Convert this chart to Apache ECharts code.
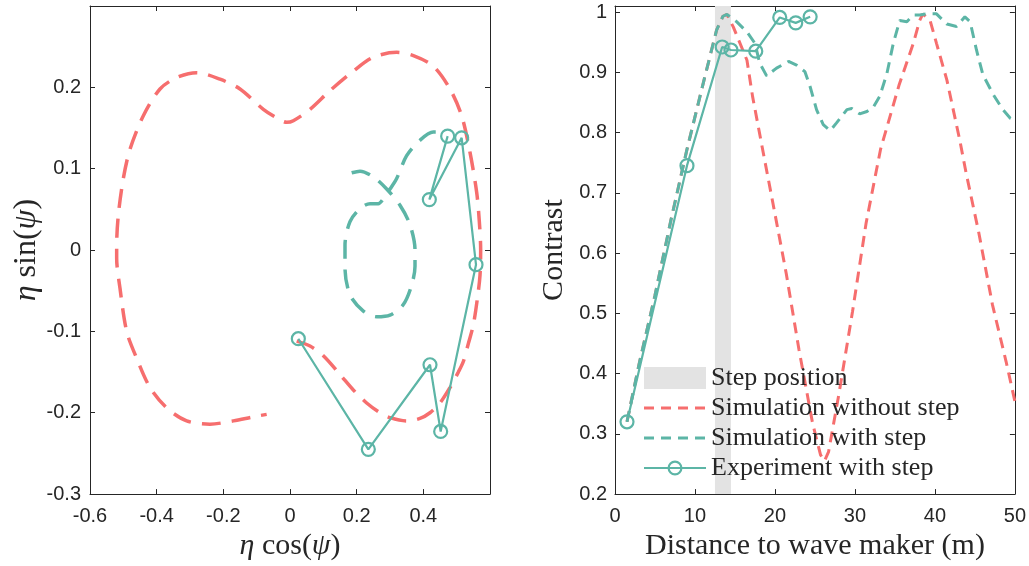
<!DOCTYPE html>
<html><head><meta charset="utf-8">
<script src="https://cdn.jsdelivr.net/npm/echarts@6/dist/echarts.min.js"></script>
<style>html,body{margin:0;padding:0;background:#fff}#c{width:1029px;height:566px}</style>
</head><body><div id="c"></div>
<script>
// ---------- Left panel: phase plane ----------
const phaseNoStepX = [0.02,0.06,0.10,0.15,0.19,0.23,0.27,0.30,0.35,0.39,0.42,0.45,0.48,0.505,0.52,0.535,0.55,0.562,0.57,0.572,0.568,0.56,0.54,0.515,0.48,0.43,0.37,0.32,0.25,0.19,0.12,0.06,0.01,-0.01,-0.03,-0.08,-0.15,-0.21,-0.28,-0.34,-0.39,-0.44,-0.48,-0.50,-0.515,-0.52,-0.52,-0.51,-0.49,-0.46,-0.42,-0.37,-0.31,-0.24,-0.17,-0.11,-0.07];
const phaseNoStepY = [-0.112,-0.118,-0.13,-0.153,-0.172,-0.188,-0.2,-0.206,-0.21,-0.207,-0.2,-0.188,-0.169,-0.15,-0.137,-0.115,-0.092,-0.06,-0.031,0.0,0.035,0.071,0.12,0.165,0.198,0.226,0.239,0.243,0.237,0.22,0.196,0.173,0.159,0.157,0.16,0.173,0.198,0.21,0.218,0.212,0.198,0.165,0.124,0.088,0.043,0.006,-0.01,-0.047,-0.1,-0.133,-0.169,-0.194,-0.21,-0.214,-0.21,-0.205,-0.202];
const phaseStepX = [0.185,0.21,0.25,0.29,0.33,0.36,0.375,0.375,0.365,0.34,0.30,0.26,0.22,0.18,0.165,0.165,0.18,0.21,0.24,0.265,0.28,0.30,0.32,0.35,0.39,0.43,0.47];
const phaseStepY = [0.095,0.097,0.09,0.075,0.055,0.031,0.0,-0.02,-0.043,-0.067,-0.08,-0.082,-0.075,-0.055,-0.022,0.006,0.035,0.051,0.057,0.057,0.063,0.075,0.088,0.116,0.135,0.145,0.145];
const phaseExpX = [0.025,0.235,0.42,0.452,0.558,0.515,0.418,0.473];
const phaseExpY = [-0.109,-0.245,-0.141,-0.223,-0.018,0.138,0.062,0.14];

// ---------- Right panel: contrast vs distance ----------
const stepPosition = [12.5, 14.5];
const noStepDist = [1.5,3,5,7,9,11,12.7,13.5,14,14.8,16.5,17.2,18.3,19.7,21.4,23,24.7,25.7,26.2,26.7,28,29.7,31.4,33.2,35.5,37.3,38.1,38.5,39.4,40.2,41.5,43.1,43.9,45.5,47.2,48.9,50];
const noStepContrast = [0.32,0.415,0.53,0.655,0.772,0.88,0.97,0.993,0.996,0.975,0.92,0.86,0.783,0.686,0.567,0.44,0.318,0.265,0.255,0.27,0.366,0.503,0.65,0.772,0.878,0.948,0.986,0.997,0.986,0.948,0.887,0.788,0.733,0.633,0.514,0.42,0.354];
const stepDist = [1.5,3,5,7,9,11,12.7,13.5,14,15.2,16.5,17.5,18.1,18.96,20.2,21.7,22.7,23.75,24.4,25.2,26.04,26.9,27.7,29.0,29.6,30.6,31.5,32.3,33.1,34,34.8,35.6,36.5,37.3,38.1,39,40.2,41.5,42.7,43.75,44.4,45.2,46,47.3,48.5,49.4,50];
const stepContrast = [0.32,0.415,0.53,0.655,0.772,0.88,0.97,0.993,0.996,0.984,0.967,0.948,0.915,0.894,0.907,0.918,0.912,0.901,0.876,0.838,0.813,0.803,0.816,0.838,0.84,0.831,0.835,0.842,0.86,0.898,0.948,0.986,0.984,0.995,0.995,0.997,0.997,0.98,0.976,0.992,0.984,0.937,0.896,0.863,0.838,0.824,0.82];
const expDist = [1.5,9,13.4,14.5,17.6,20.6,22.6,24.4];
const expContrast = [0.32,0.745,0.942,0.937,0.935,0.991,0.982,0.992];

const legendNames = ['Step position','Simulation without step','Simulation with step','Experiment with step'];

const RED = '#F66E6E', GREEN = '#5CB5A6', GREY = '#E3E3E3', INK = '#262626';
const zip = (a, b) => a.map((v, i) => [v, b[i]]);
const fmt1 = v => Math.abs(v) < 1e-9 ? '0' : (Math.round(v * 10) / 10).toFixed(1);

const tickFont = { fontFamily: 'Liberation Sans', fontSize: 20, color: INK };
const serif = 'Liberation Serif';
const marker = { color: 'transparent', borderColor: GREEN, borderWidth: 2.2 };

function axisBase(extra) {
  return Object.assign({
    type: 'value',
    axisLine: { show: true, onZero: false, lineStyle: { color: INK, width: 1 } },
    axisTick: { show: true, inside: true, length: 5, lineStyle: { color: INK, width: 1 } },
    splitLine: { show: false },
  }, extra);
}

const option = {
  animation: false,
  backgroundColor: '#fff',
  grid: [
    { left: 90, right: 539, top: 6, bottom: 69 },
    { left: 615, right: 14, top: 6, bottom: 69 }
  ],
  xAxis: [
    axisBase({ gridIndex: 0, position: 'bottom', min: -0.6, max: 0.6, interval: 0.2,
      axisLabel: Object.assign({ margin: 12, formatter: v => v > 0.5 ? '' : fmt1(v) }, tickFont),
      name: '{i|η} cos({i|ψ})', nameLocation: 'middle', nameGap: 34,
      nameTextStyle: { fontFamily: serif, fontSize: 30, color: INK,
        rich: { i: { fontFamily: serif, fontStyle: 'italic', fontSize: 30, color: INK } } } }),
    axisBase({ gridIndex: 0, position: 'top', min: -0.6, max: 0.6, interval: 0.2, axisLabel: { show: false } }),
    axisBase({ gridIndex: 1, position: 'bottom', min: 0, max: 50, interval: 10,
      axisLabel: Object.assign({ margin: 12 }, tickFont),
      name: 'Distance to wave maker (m)', nameLocation: 'middle', nameGap: 34,
      nameTextStyle: { fontFamily: serif, fontSize: 30, color: INK } }),
    axisBase({ gridIndex: 1, position: 'top', min: 0, max: 50, interval: 10, axisLabel: { show: false } })
  ],
  yAxis: [
    axisBase({ gridIndex: 0, position: 'left', min: -0.3, max: 0.3, interval: 0.1,
      axisLabel: Object.assign({ margin: 9, formatter: v => v > 0.25 ? '' : fmt1(v) }, tickFont),
      name: '{i|η} sin({i|ψ})', nameLocation: 'middle', nameGap: 44, nameRotate: 90,
      nameTextStyle: { fontFamily: serif, fontSize: 32, color: INK,
        rich: { i: { fontFamily: serif, fontStyle: 'italic', fontSize: 32, color: INK } } } }),
    axisBase({ gridIndex: 0, position: 'right', min: -0.3, max: 0.3, interval: 0.1, axisLabel: { show: false } }),
    axisBase({ gridIndex: 1, position: 'left', min: 0.2, max: 1.01, interval: 0.1,
      axisLabel: Object.assign({ margin: 8, formatter: v => v > 1.005 ? '' : (Math.abs(v - 1) < 1e-6 ? '1' : fmt1(v)) }, tickFont),
      name: 'Contrast', nameLocation: 'middle', nameGap: 46, nameRotate: 90,
      nameTextStyle: { fontFamily: serif, fontSize: 30, color: INK } }),
    axisBase({ gridIndex: 1, position: 'right', min: 0.2, max: 1.01, interval: 0.1, axisLabel: { show: false } })
  ],
  legend: {
    left: 628, top: 360, orient: 'vertical',
    itemWidth: 62, itemHeight: 16, itemGap: 4,
    textStyle: { fontFamily: serif, fontSize: 26, color: INK },
    data: [
      { name: legendNames[0], itemStyle: { opacity: 0 }, lineStyle: { width: 22, color: GREY, type: 'solid' } },
      { name: legendNames[1], itemStyle: { opacity: 0 }, lineStyle: { width: 3, color: RED, type: [10, 7] } },
      { name: legendNames[2], itemStyle: { opacity: 0 }, lineStyle: { width: 3, color: GREEN, type: [10, 7] } },
      { name: legendNames[3], itemStyle: marker, lineStyle: { width: 2.2, color: GREEN } }
    ]
  },
  series: [
    // left panel
    { name: 'phaseNoStep', type: 'line', xAxisIndex: 0, yAxisIndex: 0, data: zip(phaseNoStepX, phaseNoStepY),
      symbol: 'none', smooth: 0.3, lineStyle: { color: RED, width: 3.5, type: [19, 11] }, z: 2 },
    { name: 'phaseStep', type: 'line', xAxisIndex: 0, yAxisIndex: 0, data: zip(phaseStepX, phaseStepY),
      symbol: 'none', smooth: 0.3, lineStyle: { color: GREEN, width: 3.5, type: [19, 11] }, z: 3 },
    { name: 'phaseExp', type: 'line', xAxisIndex: 0, yAxisIndex: 0, data: zip(phaseExpX, phaseExpY),
      symbol: 'circle', symbolSize: 13, showSymbol: true,
      lineStyle: { color: GREEN, width: 2.2 }, itemStyle: marker, z: 4 },
    // right panel
    { name: legendNames[0], type: 'line', xAxisIndex: 2, yAxisIndex: 2, data: [], symbol: 'none',
      lineStyle: { color: GREY, width: 22 }, itemStyle: { color: GREY },
      markArea: { silent: true, itemStyle: { color: GREY }, data: [[{ xAxis: stepPosition[0] }, { xAxis: stepPosition[1] }]] }, z: 1 },
    { name: legendNames[1], type: 'line', xAxisIndex: 2, yAxisIndex: 2, data: zip(noStepDist, noStepContrast),
      symbol: 'none', lineStyle: { color: RED, width: 3, type: [11, 7] }, itemStyle: { color: RED }, z: 2 },
    { name: legendNames[2], type: 'line', xAxisIndex: 2, yAxisIndex: 2, data: zip(stepDist, stepContrast),
      symbol: 'none', lineStyle: { color: GREEN, width: 3, type: [11, 7] }, itemStyle: { color: GREEN }, z: 3 },
    { name: legendNames[3], type: 'line', xAxisIndex: 2, yAxisIndex: 2, data: zip(expDist, expContrast),
      symbol: 'circle', symbolSize: 13, showSymbol: true,
      lineStyle: { color: GREEN, width: 2.2 }, itemStyle: marker, z: 4 }
  ]
};
const chart = echarts.init(document.getElementById('c'), null, { renderer: 'canvas' });
chart.setOption(option);
</script>
</body></html>
